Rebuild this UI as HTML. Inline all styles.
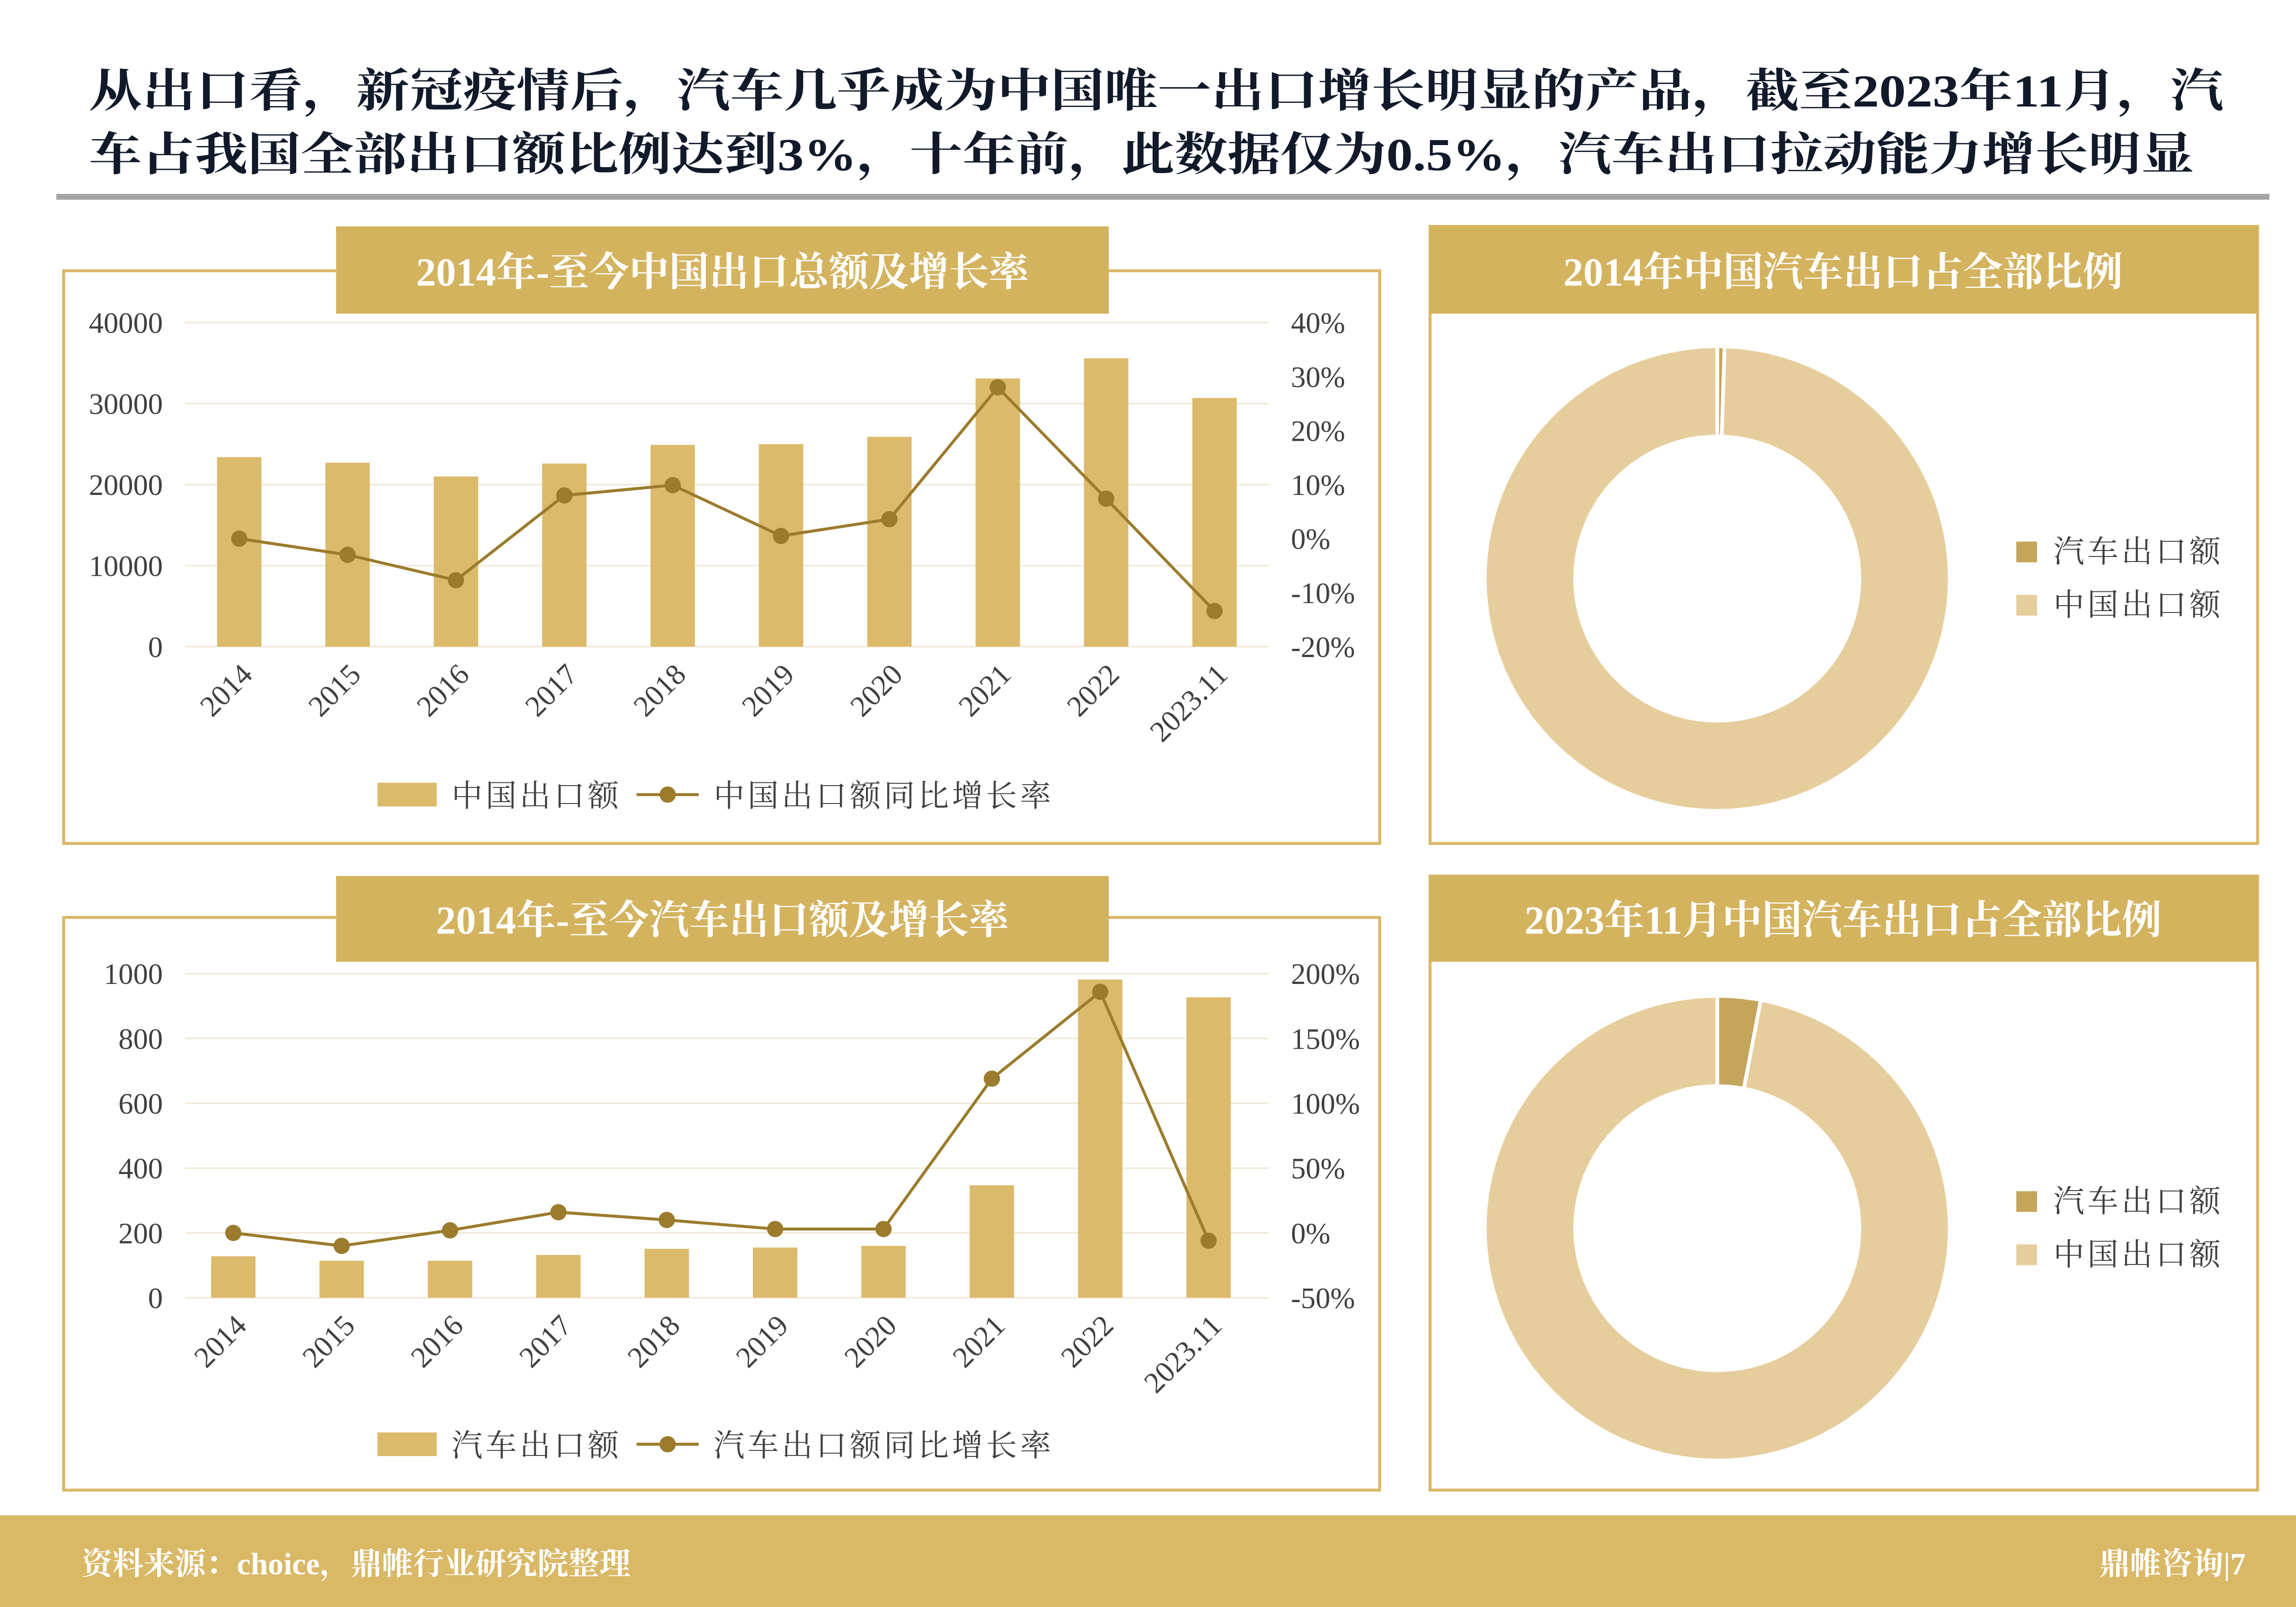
<!DOCTYPE html>
<html><head><meta charset="utf-8"><style>
html,body{margin:0;padding:0;background:#fff;}
svg{display:block;}
text{font-family:"Liberation Serif","Noto Serif CJK SC",serif;}
</style></head><body>
<svg id="root" width="5055" height="3500" viewBox="0 0 1568 1086" preserveAspectRatio="none" xmlns="http://www.w3.org/2000/svg">
<rect width="1568" height="1086" fill="#fff"/>
<g fill="#111a2a" font-weight="bold" font-size="31">
<text x="60" y="72" textLength="1442" lengthAdjust="spacingAndGlyphs">从出口看，新冠疫情后，汽车几乎成为中国唯一出口增长明显的产品，截至2023年11月，汽</text>
<text x="60" y="115" textLength="1422" lengthAdjust="spacingAndGlyphs">车占我国全部出口额比例达到3%，十年前，此数据仅为0.5%，汽车出口拉动能力增长明显</text>
</g>
<rect x="38" y="131" width="1495" height="4" fill="#a6a6a6"/>

<!-- panels -->
<rect x="43" y="183" width="889" height="387" fill="none" stroke="#d9b866" stroke-width="2"/>
<rect x="227" y="153" width="522" height="59" fill="#d4b35f"/>
<text x="488" y="193" text-anchor="middle" fill="#fff" font-size="27" font-weight="bold">2014年-至今中国出口总额及增长率</text>

<rect x="966" y="153" width="559" height="417" fill="none" stroke="#d9b866" stroke-width="2"/>
<rect x="966" y="153" width="559" height="59" fill="#d4b35f"/>
<text x="1245" y="193" text-anchor="middle" fill="#fff" font-size="27" font-weight="bold">2014年中国汽车出口占全部比例</text>

<rect x="43" y="620" width="889" height="387" fill="none" stroke="#d9b866" stroke-width="2"/>
<rect x="227" y="592" width="522" height="58" fill="#d4b35f"/>
<text x="488" y="631" text-anchor="middle" fill="#fff" font-size="27" font-weight="bold">2014年-至今汽车出口额及增长率</text>

<rect x="966" y="592" width="559" height="415" fill="none" stroke="#d9b866" stroke-width="2"/>
<rect x="966" y="592" width="559" height="58" fill="#d4b35f"/>
<text x="1245" y="631" text-anchor="middle" fill="#fff" font-size="27" font-weight="bold">2023年11月中国汽车出口占全部比例</text>

<g id="chart1"></g>
<g id="chart2"></g>
<g id="donut1"></g>
<g id="donut2"></g>

<rect x="0" y="1024" width="1568" height="62" fill="#d9b866"/>
<text x="55" y="1064" fill="#fff" font-size="21" font-weight="bold">资料来源：choice，鼎帷行业研究院整理</text>
<text x="1517" y="1064" text-anchor="end" fill="#fff" font-size="21" font-weight="bold">鼎帷咨询|7</text>
</svg>
<script>
const categories = ["2014","2015","2016","2017","2018","2019","2020","2021","2022","2023.11"];
const exportValues = [23400,22700,21000,22600,24900,25000,25900,33100,35600,30700];
const exportGrowth = [0,-3,-7.7,8,9.9,0.5,3.6,28,7.4,-13.4];
const exportLeftTicks = [0,10000,20000,30000,40000];
const exportRightTicks = [-20,-10,0,10,20,30,40];
const autoValues = [128,114,114,132,151,155,160,347,982,927];
const autoGrowth = [0,-10,2,16,10,3,3,119,186,-6];
const autoLeftTicks = [0,200,400,600,800,1000];
const autoRightTicks = [-50,0,50,100,150,200];
const share2014 = [0.5,99.5];
const share2023 = [3,97];
const shareLabels = ["汽车出口额","中国出口额"];

const NS="http://www.w3.org/2000/svg";
function mk(tag,attrs,parent,txt){const e=document.createElementNS(NS,tag);for(const k in attrs)e.setAttribute(k,attrs[k]);if(txt!==undefined)e.textContent=txt;parent.appendChild(e);return e;}

function drawCombo(g,o){
  const x0=125,x1=857,step=(x1-x0)/categories.length;
  const yL=v=>o.yBot-(v-o.lMin)/(o.lMax-o.lMin)*(o.yBot-o.yTop);
  const yR=v=>o.yBot-(v-o.rMin)/(o.rMax-o.rMin)*(o.yBot-o.yTop);
  const xc=i=>x0+step*(i+0.5)+o.shift;
  o.lTicks.forEach(t=>{
    const l=mk('line',{x1:x0,x2:x1,y1:yL(t),y2:yL(t),stroke:'#efe8d4','stroke-width':1},g);
    
    
    const tx=mk('text',{x:110,y:yL(t)+7,'text-anchor':'end','font-size':20,fill:'#404040'},g,String(t));
    
    
  });
  o.rTicks.forEach(t=>{
    const tx=mk('text',{x:872,y:yR(t)+7,'font-size':20,fill:'#404040'},g,t+'%');
    
    
  });
  o.vals.forEach((v,i)=>{
    const b=mk('rect',{x:xc(i)-15,y:yL(v),width:30,height:yL(0)-yL(v),fill:'#dcba6b'},g);
    
    
  });
  const pts=o.growth.map((v,i)=>xc(i)+','+yR(v)).join(' ');
  const pl=mk('polyline',{points:pts,fill:'none',stroke:'#9b7b2c','stroke-width':2},g);
  
  
  o.growth.forEach((v,i)=>{
    const c=mk('circle',{cx:xc(i),cy:yR(v),r:5.5,fill:'#9b7b2c'},g);
    
    
  });
  categories.forEach((c,i)=>{
    const X=xc(i)+10,Y=o.yBot+20;
    const t=mk('text',{x:X,y:Y,'text-anchor':'end','font-size':20,fill:'#404040',transform:'rotate(-45 '+X+' '+Y+')'},g,c);
    
    
  });
  const ly=o.legY;
  const r=mk('rect',{x:255,y:ly-8,width:40,height:16,fill:'#dcba6b'},g);
  
  
  const t1=mk('text',{x:305,y:ly+8,'font-size':21,fill:'#404040','letter-spacing':'2'},g,o.barLabel);
  
  
  const l=mk('line',{x1:430,x2:472,y1:ly,y2:ly,stroke:'#9b7b2c','stroke-width':2},g);
  
  
  const d=mk('circle',{cx:451,cy:ly,r:5.5,fill:'#9b7b2c'},g);
  
  
  const t2=mk('text',{x:482,y:ly+8,'font-size':21,fill:'#404040','letter-spacing':'2'},g,o.lineLabel);
  
  
}
drawCombo(document.getElementById('chart1'),{yTop:218,yBot:437,lMin:0,lMax:40000,rMin:-20,rMax:40,lTicks:exportLeftTicks,rTicks:exportRightTicks,vals:exportValues,growth:exportGrowth,shift:0,legY:537,barLabel:'中国出口额',lineLabel:'中国出口额同比增长率'});
drawCombo(document.getElementById('chart2'),{yTop:658,yBot:877,lMin:0,lMax:1000,rMin:-50,rMax:200,lTicks:autoLeftTicks,rTicks:autoRightTicks,vals:autoValues,growth:autoGrowth,shift:-4,legY:976,barLabel:'汽车出口额',lineLabel:'汽车出口额同比增长率'});

function drawDonut(g,vals,cx,cy,legTop){
  const R=157,r=96,total=vals.reduce((a,b)=>a+b,0);
  const colors=['#c4a55a','#e6cd9c'];
  let a=0;
  const pt=(ang,rad)=>[cx+rad*Math.sin(ang),cy-rad*Math.cos(ang)];
  vals.forEach((v,i)=>{
    const a2=a+v/total*2*Math.PI;
    const big=(a2-a)>Math.PI?1:0;
    const p1=pt(a,R),p2=pt(a2,R),p3=pt(a2,r),p4=pt(a,r);
    const p=mk('path',{d:`M${p1} A${R},${R} 0 ${big} 1 ${p2} L${p3} A${r},${r} 0 ${big} 0 ${p4} Z`,fill:colors[i],stroke:'#fff','stroke-width':2.5},g);
    
    
    a=a2;
  });
  shareLabels.forEach((lab,i)=>{
    const y=legTop+i*36;
    const s=mk('rect',{x:1362,y:y,width:14,height:14,fill:colors[i]},g);
    
    
    const t=mk('text',{x:1387,y:y+14,'font-size':21,fill:'#404040','letter-spacing':'2'},g,lab);
    
    
  });
}
drawDonut(document.getElementById('donut1'),share2014,1160,391,366);
drawDonut(document.getElementById('donut2'),share2023,1160,830,805);
</script>
</body></html>
